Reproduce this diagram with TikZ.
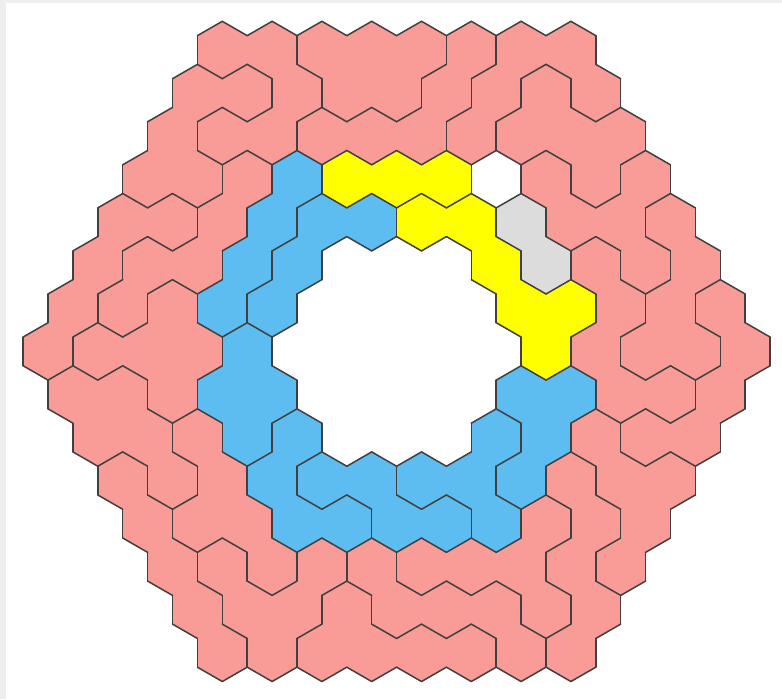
\documentclass[tikz,border=0pt]{standalone}
\definecolor{pk}{HTML}{F99B96}
\definecolor{bl}{HTML}{5DBCF0}
\definecolor{yl}{HTML}{FFFF00}
\definecolor{gy}{HTML}{DCDCDC}
\definecolor{ln}{HTML}{404040}
\definecolor{frame}{HTML}{EEEEEE}
\newcommand\piece[3]{\foreach \rowi/\coli in {#3}{%
  \expandafter\xdef\csname cell@\rowi @\coli\endcsname{#1}%
  \expandafter\xdef\csname col@\rowi @\coli\endcsname{#2}}}
\newcommand\nbid[2]{\ifcsname cell@#1@#2\endcsname\csname cell@#1@#2\endcsname\else NONE\fi}
\def\nonestr{NONE}
\tikzset{edge/.style={draw=ln,line width=1.5pt,line cap=round}}
\begin{document}
\begin{tikzpicture}[x=1pt,y=1pt]
\useasboundingbox (0,0) rectangle (782,699);
\fill[white] (0,0) rectangle (782,699);
\fill[frame] (0,696) rectangle (782,699);
\fill[frame] (0,0) rectangle (6,699);
% pink pieces
\piece{P1}{pk}{0/7,0/9,1/10,2/9,2/7}
\piece{P2}{pk}{0/11,0/13,0/15,1/12,1/14}
\piece{P3}{pk}{0/17,1/16,2/15,2/13,2/11}
\piece{P4}{pk}{0/19,0/21,1/22,1/18,2/17}
\piece{P5}{pk}{1/20,2/19,2/21,2/23,3/22}
\piece{P6}{pk}{1/6,1/8,2/5,3/4,3/6}
\piece{P7}{pk}{3/20,4/21,4/23,3/24,5/24}
\piece{P8}{pk}{4/3,4/5,5/2,6/1,7/0}
\piece{P9}{pk}{5/4,5/6,6/3,3/8,4/7}
\piece{P10}{pk}{6/5,7/2,7/4,7/6,8/5}
\piece{P11}{pk}{8/1,8/3,9/2,9/4,10/5}
\piece{P12}{pk}{10/3,11/4,12/5,13/6,14/7}
\piece{P13}{pk}{9/6,10/7,11/6,11/8,12/9}
\piece{P14}{pk}{4/25,5/26,6/25,7/24,7/26}
\piece{P15}{pk}{6/27,7/28,8/27,9/26,9/24}
\piece{P16}{pk}{9/22,10/23,10/25,11/24,12/23}
\piece{P17}{pk}{5/22,6/23,7/22,8/23,8/25}
\piece{P18}{pk}{12/7,13/8,13/10,12/11,14/9}
\piece{P19}{pk}{12/13,13/14,13/16,13/18,14/19}
\piece{P20}{pk}{13/12,14/11,14/13,14/15,14/17}
\piece{P21}{pk}{10/21,11/22,12/21,13/22,14/21}
\piece{P22}{pk}{11/20,12/15,12/17,12/19,13/20}
% blue pieces
\piece{B1}{bl}{3/10,4/9,5/8,6/7}
\piece{B2}{bl}{4/11,4/13,5/10,6/9}
\piece{B3}{bl}{7/8,8/7,8/9,9/8}
\piece{B4}{bl}{9/10,10/9,11/10,11/12}
\piece{B5}{bl}{10/11,10/13,11/14,11/16}
\piece{B6}{bl}{9/18,10/15,10/17,11/18}
\piece{B7}{bl}{8/19,8/21,9/20,10/19}
% yellow and grey
\piece{Y1}{yl}{3/12,3/14,3/16}
\piece{Y2}{yl}{4/15,4/17,5/18,6/19,6/21,7/20}
\piece{G1}{gy}{4/19,5/20}
% fills
\foreach \rowi in {0,...,14}{
  \pgfmathtruncatemacro\nlast{14-abs(\rowi-7)}
  \foreach \k in {0,...,\nlast}{
    \pgfmathtruncatemacro\coli{abs(\rowi-7)+2*\k}
    \ifcsname cell@\rowi @\coli\endcsname
      \edef\thecol{\csname col@\rowi @\coli\endcsname}
      \begin{scope}[shift={({48+24.9*\coli},{649-43.06*\rowi})}]
        \filldraw[fill=\thecol,draw=\thecol,line width=0.6pt] (0,28.7)--(24.9,14.35)--(24.9,-14.35)--(0,-28.7)--(-24.9,-14.35)--(-24.9,14.35)--cycle;
      \end{scope}
    \fi
  }
}
% edges
\foreach \rowi in {0,...,14}{
  \pgfmathtruncatemacro\nlast{14-abs(\rowi-7)}
  \foreach \k in {0,...,\nlast}{
    \pgfmathtruncatemacro\coli{abs(\rowi-7)+2*\k}
    \ifcsname cell@\rowi @\coli\endcsname
      \edef\myid{\nbid{\rowi}{\coli}}
      \edef\nE{\nbid{\rowi}{\the\numexpr\coli+2\relax}}
      \edef\nW{\nbid{\rowi}{\the\numexpr\coli-2\relax}}
      \edef\nNE{\nbid{\the\numexpr\rowi-1\relax}{\the\numexpr\coli+1\relax}}
      \edef\nNW{\nbid{\the\numexpr\rowi-1\relax}{\the\numexpr\coli-1\relax}}
      \edef\nSE{\nbid{\the\numexpr\rowi+1\relax}{\the\numexpr\coli+1\relax}}
      \edef\nSW{\nbid{\the\numexpr\rowi+1\relax}{\the\numexpr\coli-1\relax}}
      \begin{scope}[shift={({48+24.9*\coli},{649-43.06*\rowi})}]
        \ifx\myid\nE\else\draw[edge] (24.9,14.35)--(24.9,-14.35);\fi
        \ifx\myid\nSE\else\draw[edge] (24.9,-14.35)--(0,-28.7);\fi
        \ifx\myid\nSW\else\draw[edge] (0,-28.7)--(-24.9,-14.35);\fi
        \ifx\nW\nonestr\draw[edge] (-24.9,-14.35)--(-24.9,14.35);\fi
        \ifx\nNW\nonestr\draw[edge] (-24.9,14.35)--(0,28.7);\fi
        \ifx\nNE\nonestr\draw[edge] (0,28.7)--(24.9,14.35);\fi
      \end{scope}
    \fi
  }
}
\end{tikzpicture}
\end{document}
